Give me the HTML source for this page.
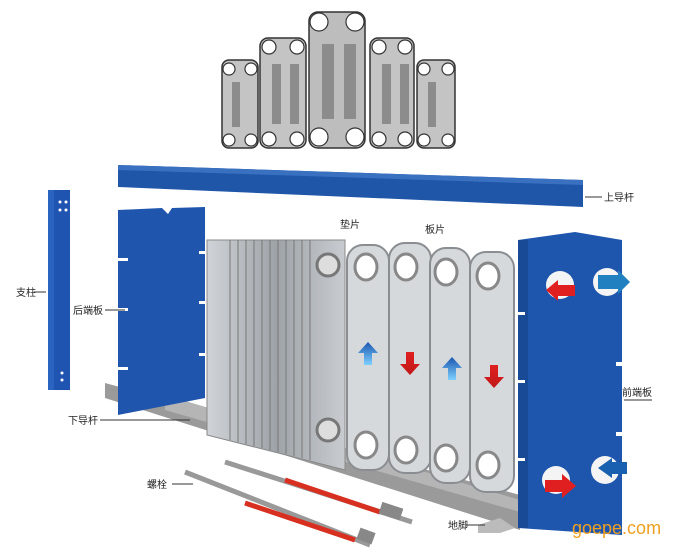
<!DOCTYPE html>
<html><head><meta charset="utf-8"><style>
html,body{margin:0;padding:0;background:#fff;width:680px;height:556px;overflow:hidden}
svg{display:block}
text{font-family:"Liberation Sans","Noto Sans CJK SC",sans-serif;font-size:10px;fill:#222}
</style></head><body>
<svg width="680" height="556" viewBox="0 0 680 556" xmlns="http://www.w3.org/2000/svg">
<defs>
<linearGradient id="pk" x1="0" x2="1"><stop offset="0" stop-color="#d0d4d8"/><stop offset="0.5" stop-color="#9ea3a8"/><stop offset="1" stop-color="#c8ccd0"/></linearGradient>
<linearGradient id="bl" x1="0" y1="0" x2="0" y2="1"><stop offset="0" stop-color="#1a56b0"/><stop offset="1" stop-color="#7fd0ff"/></linearGradient>
<linearGradient id="rd" x1="0" y1="0" x2="0" y2="1"><stop offset="0" stop-color="#e02020"/><stop offset="1" stop-color="#c01818"/></linearGradient>
</defs>
<!-- top plates -->
<g stroke="#333" stroke-width="1.5">
<rect x="222" y="60" width="36" height="88" rx="7" fill="#c4c4c4"/>
<rect x="260" y="38" width="46" height="110" rx="8" fill="#c4c4c4"/>
<rect x="309" y="12" width="56" height="136" rx="9" fill="#bdbdbd"/>
<rect x="370" y="38" width="44" height="110" rx="8" fill="#c4c4c4"/>
<rect x="417" y="60" width="38" height="88" rx="7" fill="#c4c4c4"/>
</g>
<g fill="#fff" stroke="#333" stroke-width="1.2">
<circle cx="229" cy="69" r="6"/><circle cx="251" cy="69" r="6"/><circle cx="229" cy="140" r="6"/><circle cx="251" cy="140" r="6"/>
<circle cx="269" cy="47" r="7"/><circle cx="297" cy="47" r="7"/><circle cx="269" cy="139" r="7"/><circle cx="297" cy="139" r="7"/>
<circle cx="319" cy="22" r="9"/><circle cx="355" cy="22" r="9"/><circle cx="319" cy="137" r="9"/><circle cx="355" cy="137" r="9"/>
<circle cx="379" cy="47" r="7"/><circle cx="405" cy="47" r="7"/><circle cx="379" cy="139" r="7"/><circle cx="405" cy="139" r="7"/>
<circle cx="424" cy="69" r="6"/><circle cx="448" cy="69" r="6"/><circle cx="424" cy="140" r="6"/><circle cx="448" cy="140" r="6"/>
</g>
<g fill="#8c8c8c"><rect x="232" y="82" width="8" height="45"/><rect x="272" y="64" width="9" height="60"/><rect x="290" y="64" width="9" height="60"/><rect x="322" y="44" width="12" height="75"/><rect x="344" y="44" width="12" height="75"/><rect x="382" y="64" width="9" height="60"/><rect x="400" y="64" width="9" height="60"/><rect x="428" y="82" width="8" height="45"/></g>
<!-- top beam -->
<polygon points="118,165 583,180 583,207 118,187" fill="#1f56a8"/>
<polygon points="118,165 583,180 583,185 118,170" fill="#3a70c0"/>
<line x1="585" y1="197" x2="602" y2="197" stroke="#333"/>
<text x="604" y="201">上导杆</text>
<!-- support -->
<rect x="48" y="190" width="22" height="200" fill="#1f55b0"/>
<rect x="48" y="190" width="6" height="200" fill="#2a64c0"/>
<g fill="#fff"><circle cx="60" cy="202" r="1.5"/><circle cx="66" cy="202" r="1.5"/><circle cx="60" cy="210" r="1.5"/><circle cx="66" cy="210" r="1.5"/><circle cx="62" cy="373" r="1.5"/><circle cx="62" cy="380" r="1.5"/></g>
<line x1="34" y1="292" x2="46" y2="292" stroke="#333"/>
<text x="16" y="296">支柱</text>
<!-- lower rail -->
<polygon points="105,383 520,495 520,530 105,398" fill="#9a9a9a"/>
<polygon points="165,395 520,500 520,512 165,410" fill="#b5b5b5"/>
<!-- rear end plate -->
<polygon points="118,210 162,208 168,214 172,208 205,207 205,398 118,415" fill="#1f55ad"/>
<g fill="#fff"><rect x="118" y="258" width="10" height="3"/><rect x="118" y="308" width="10" height="3"/><rect x="118" y="367" width="10" height="3"/><rect x="199" y="251" width="6" height="3"/><rect x="199" y="301" width="6" height="3"/><rect x="199" y="353" width="6" height="3"/></g>
<line x1="105" y1="310" x2="125" y2="310" stroke="#333"/>
<text x="73" y="314">后端板</text>
<line x1="100" y1="420" x2="190" y2="420" stroke="#333"/>
<text x="68" y="424">下导杆</text>
<!-- plate pack -->
<polygon points="207,240 345,240 345,470 207,435" fill="url(#pk)" stroke="#888"/>
<g stroke="#777" stroke-width="1" fill="none">
<line x1="230" y1="240" x2="230" y2="440"/><line x1="238" y1="240" x2="238" y2="442"/><line x1="246" y1="240" x2="246" y2="444"/><line x1="254" y1="240" x2="254" y2="446"/><line x1="262" y1="240" x2="262" y2="448"/><line x1="270" y1="240" x2="270" y2="450"/><line x1="278" y1="240" x2="278" y2="452"/><line x1="286" y1="240" x2="286" y2="454"/><line x1="294" y1="240" x2="294" y2="456"/><line x1="302" y1="240" x2="302" y2="458"/><line x1="310" y1="240" x2="310" y2="460"/>
</g>
<circle cx="328" cy="265" r="11" fill="#ddd" stroke="#777" stroke-width="3"/>
<circle cx="328" cy="430" r="11" fill="#ddd" stroke="#777" stroke-width="3"/>
<text x="340" y="228">垫片</text>
<text x="425" y="233">板片</text>
<!-- separate plates -->
<g fill="#d6d9dc" stroke="#8a8e92" stroke-width="2">
<rect x="347" y="245" width="42" height="225" rx="16"/>
<rect x="389" y="243" width="42" height="230" rx="16"/>
<rect x="430" y="248" width="40" height="235" rx="16"/>
<rect x="470" y="252" width="44" height="240" rx="16"/>
</g>
<g fill="#fff" stroke="#888" stroke-width="3">
<ellipse cx="366" cy="267" rx="11" ry="13"/><ellipse cx="366" cy="445" rx="11" ry="13"/>
<ellipse cx="406" cy="267" rx="11" ry="13"/><ellipse cx="406" cy="450" rx="11" ry="13"/>
<ellipse cx="446" cy="272" rx="11" ry="13"/><ellipse cx="446" cy="458" rx="11" ry="13"/>
<ellipse cx="488" cy="276" rx="11" ry="13"/><ellipse cx="488" cy="465" rx="11" ry="13"/>
</g>
<polygon points="368,342 378,353 372,353 372,365 364,365 364,353 358,353" fill="url(#bl)"/>
<polygon points="410,375 420,364 414,364 414,352 406,352 406,364 400,364" fill="url(#rd)"/>
<polygon points="452,357 462,368 456,368 456,380 448,380 448,368 442,368" fill="url(#bl)"/>
<polygon points="494,388 504,377 498,377 498,365 490,365 490,377 484,377" fill="url(#rd)"/>
<!-- bolts -->
<line x1="185" y1="472" x2="370" y2="545" stroke="#999" stroke-width="5"/>
<line x1="245" y1="503" x2="355" y2="540" stroke="#d83020" stroke-width="5"/>
<line x1="225" y1="462" x2="412" y2="522" stroke="#999" stroke-width="5"/>
<line x1="285" y1="480" x2="380" y2="512" stroke="#d83020" stroke-width="5"/>
<rect x="380" y="505" width="22" height="12" fill="#888" transform="rotate(18 391 511)"/>
<rect x="358" y="530" width="16" height="12" fill="#888" transform="rotate(20 366 536)"/>
<line x1="172" y1="484" x2="193" y2="484" stroke="#333"/>
<text x="147" y="488">螺栓</text>
<!-- front end plate -->
<polygon points="518,240 575,232 622,240 622,535 518,528" fill="#1f56ad"/>
<polygon points="518,240 528,240 528,528 518,528" fill="#184a95"/>
<g fill="#fff"><rect x="515" y="312" width="10" height="3"/><rect x="515" y="380" width="10" height="3"/><rect x="515" y="458" width="10" height="3"/><rect x="616" y="362" width="6" height="4"/><rect x="616" y="432" width="6" height="4"/></g>
<circle cx="560" cy="285" r="14" fill="#f4f4f4"/>
<circle cx="607" cy="282" r="14" fill="#f4f4f4"/>
<circle cx="556" cy="480" r="14" fill="#f4f4f4"/>
<circle cx="605" cy="470" r="14" fill="#f4f4f4"/>
<polygon points="546,290 558,280 558,285 575,285 575,296 558,296 558,301" fill="#e02020"/>
<polygon points="598,275 618,275 618,270 630,282 618,294 618,289 598,289" fill="#2080c0"/>
<polygon points="545,480 562,480 562,474 576,486 562,498 562,492 545,492" fill="#e02020"/>
<polygon points="627,462 612,462 612,458 598,468 612,478 612,474 627,474" fill="#1a60b0"/>
<line x1="624" y1="400" x2="652" y2="400" stroke="#333"/>
<text x="622" y="396">前端板</text>
<polygon points="478,525 500,518 515,528 500,533 478,533" fill="#bbb"/>
<line x1="466" y1="525" x2="485" y2="525" stroke="#333"/>
<text x="448" y="529">地脚</text>
<text x="572" y="534" style="font-size:18px;fill:#f0a020">goepe.com</text>
</svg>
</body></html>
